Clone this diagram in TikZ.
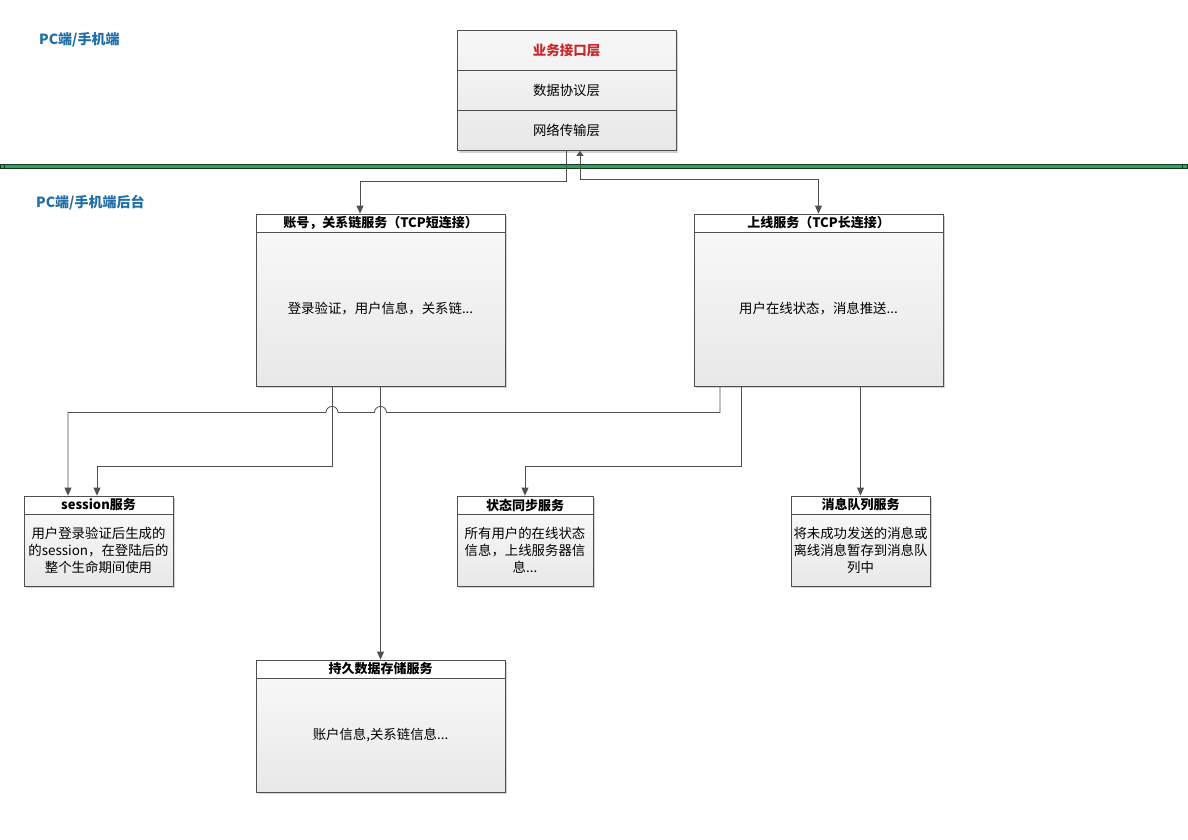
\documentclass[tikz,border=0pt]{standalone}
\usepackage{fontspec}
\newfontfamily\cjk{Noto Sans CJK SC}
\usepackage{xcolor}
\usepackage{tikz}
\usetikzlibrary{positioning,calc,shadows,arrows.meta}

\definecolor{edgegray}{HTML}{505050}
\definecolor{titlered}{HTML}{C8282D}
\definecolor{labelblue}{HTML}{1F6EA5}
\definecolor{busgreen}{HTML}{2EA25E}
\definecolor{busdark}{HTML}{163A20}

\tikzset{
  box/.style={draw=edgegray, line width=0.8pt, inner sep=2pt, align=center,
    font=\cjk\fontsize{13.4}{17}\selectfont,
    drop shadow={shadow xshift=2pt, shadow yshift=-2pt, fill=black!18, opacity=1}},
  head/.style={box, fill=white, font=\cjk\bfseries\fontsize{13}{17}\selectfont, minimum height=18pt},
  body/.style={box, top color=white!97!black, bottom color=black!9},
  layer/.style={box, minimum width=219pt, minimum height=40pt},
  conn/.style={draw=edgegray, line width=0.8pt, -{Triangle[length=8pt,width=7pt]}},
  tag/.style={font=\cjk\bfseries\fontsize{14}{16}\selectfont, text=labelblue, anchor=west, inner sep=0pt},
}

\begin{document}
\begin{tikzpicture}[x=1pt,y=-1pt]
  \useasboundingbox (0,0) rectangle (1188,840);

  % bus line
  \draw[busdark, fill=busgreen, line width=0.5pt] (0.3,164.3) rectangle (1187.7,168.7)
    (4.5,164.3) -- (4.5,168.7) (1182.5,164.3) -- (1182.5,168.7);

  % client side stack
  \node[layer, top color=black!3, bottom color=black!5, text=titlered,
        font=\cjk\bfseries\fontsize{13.5}{17}\selectfont] (api) at (566.5,50.5) {业务接口层} ; %
  \node[layer, top color=black!5, bottom color=black!7, below=-0.8pt of api] (proto) {数据协议层} ; %
  \node[layer, top color=black!7, bottom color=black!9, below=-0.8pt of proto] (net) {网络传输层} ; %

  \node[tag] (front) at (39,40) {PC端/手机端} ; %
  \node[tag] (back) at (36,203) {PC端/手机端后台} ; %

  % back end services
  \node[head, minimum width=249pt] (acct) at (380.5,223) {账号，关系链服务（TCP短连接）} ; %
  \node[body, minimum width=249pt, minimum height=154pt, below=-0.8pt of acct] (acctb) {登录验证，用户信息，关系链...} ; %

  \node[head, minimum width=249pt] (online) at (818.5,223) {上线服务（TCP长连接）} ; %
  \node[body, minimum width=249pt, minimum height=154pt, below=-0.8pt of online] (onlineb) {用户在线状态，消息推送...} ; %

  \node[head, minimum width=149pt] (sess) at (98.5,505) {session服务} ; %
  \node[body, minimum width=149pt, minimum height=72pt, below=-0.8pt of sess] (sessb) {用户登录验证后生成的\\的session，在登陆后的\\整个生命期间使用} ; %

  \node[head, minimum width=136pt] (sync) at (525,505) {状态同步服务} ; %
  \node[body, minimum width=136pt, minimum height=72pt, below=-0.8pt of sync] (syncb) {所有用户的在线状态\\信息，上线服务器信\\息...} ; %

  \node[head, minimum width=139pt] (msgq) at (860.5,505) {消息队列服务} ; %
  \node[body, minimum width=139pt, minimum height=72pt, below=-0.8pt of msgq] (msgqb) {将未成功发送的消息或\\离线消息暂存到消息队\\列中} ; %

  \node[head, minimum width=249pt] (store) at (380.5,669) {持久数据存储服务} ; %
  \node[body, minimum width=249pt, minimum height=114pt, below=-0.8pt of store] (storeb) {账户信息,关系链信息...} ; %

  % connectors
  \draw[conn] (net.south) -- ++(0,30) -| ([xshift=-20.5pt]acct.north);
  \draw[conn, {Triangle[length=5pt,width=7pt]}-{Triangle[length=8pt,width=7pt]}]
    ([xshift=13.5pt]net.south) |- ($(online.north)+(0,-34)$) -- (online.north);

  \draw[conn] ([xshift=-98.5pt]onlineb.south) -- ++(0,26) coordinate (hop)
    -- ($(hop -| acctb.south)+(6,0)$) arc[start angle=0, end angle=180, radius=6pt]
    -- ($(hop -| acctb.south)+(-42.5,0)$) arc[start angle=0, end angle=180, radius=6pt]
    -| ([xshift=-30.5pt]sess.north);
  \draw[conn] ([xshift=-48.5pt]acctb.south) -- ++(0,80) -| ([xshift=-1.5pt]sess.north);
  \draw[conn] (acctb.south) -- (store.north);
  \draw[conn] ([xshift=-77.5pt]onlineb.south) -- ++(0,80) -| (sync.north);
  \draw[conn] (onlineb.south -| msgq.north) -- (msgq.north);
\end{tikzpicture}
\end{document}
